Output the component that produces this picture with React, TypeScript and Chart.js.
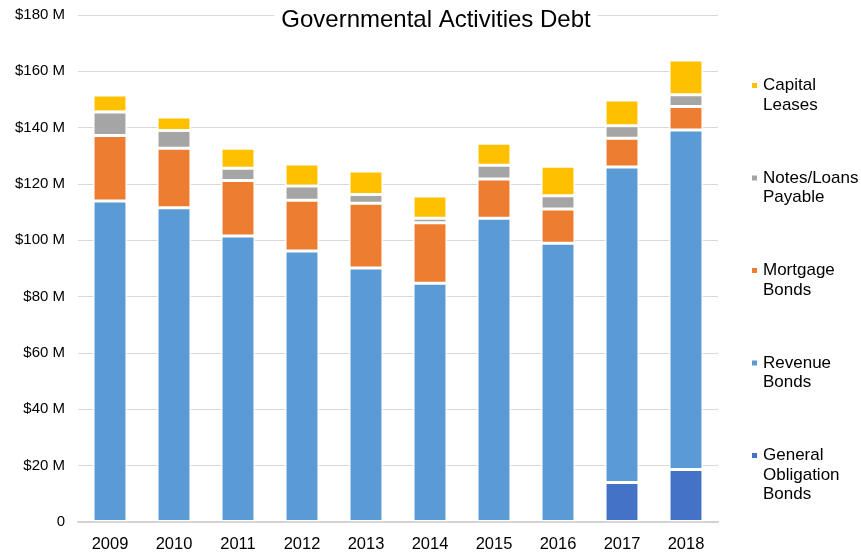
import { useEffect, useRef } from "react";
import { Chart, registerables } from "chart.js";

Chart.register(...registerables);

const years = ["2009", "2010", "2011", "2012", "2013", "2014", "2015", "2016", "2017", "2018"];
const generalObligation = [0, 0, 0, 0, 0, 0, 0, 0, 14.0, 18.6];
const revenueBonds = [114.0, 111.6, 101.5, 96.2, 90.2, 84.8, 107.8, 99.0, 112.0, 120.6];
const mortgageBonds = [23.2, 21.1, 19.7, 18.0, 23.0, 21.4, 14.0, 12.1, 10.2, 8.3];
const notesLoans = [8.4, 6.3, 4.4, 5.1, 3.1, 1.6, 4.9, 4.7, 4.5, 4.2];
const capitalLeases = [6.0, 4.8, 7.1, 7.8, 8.3, 7.9, 7.8, 10.5, 9.1, 12.3];

const titleText = "Governmental Activities Debt";
const legendItems = [
  { lines: ["Capital", "Leases"], color: "#FFC000" },
  { lines: ["Notes/Loans", "Payable"], color: "#A5A5A5" },
  { lines: ["Mortgage", "Bonds"], color: "#ED7D31" },
  { lines: ["Revenue", "Bonds"], color: "#5B9BD5" },
  { lines: ["General", "Obligation", "Bonds"], color: "#4472C4" },
];

const FONT = "'Liberation Sans', Arial, sans-serif";

const overlayPlugin = {
  id: "overlay",
  afterDraw(chart: any) {
    const ctx = chart.ctx;
    ctx.save();
    // title
    ctx.font = `24px ${FONT}`;
    const w = ctx.measureText(titleText).width;
    const cx = 436;
    ctx.fillStyle = "#ffffff";
    ctx.fillRect(cx - w / 2 - 7, 3, w + 14, 32);
    ctx.fillStyle = "#000000";
    ctx.textAlign = "center";
    ctx.textBaseline = "alphabetic";
    ctx.fillText(titleText, cx, 27);
    // legend
    ctx.font = `17px ${FONT}`;
    ctx.textAlign = "left";
    ctx.textBaseline = "middle";
    const startY = 85.5;
    const step = 92.5;
    legendItems.forEach((item, i) => {
      const y0 = startY + i * step;
      ctx.fillStyle = item.color;
      ctx.fillRect(752, y0 - 2.5, 5, 5);
      ctx.fillStyle = "#000000";
      item.lines.forEach((ln, j) => {
        ctx.fillText(ln, 763, y0 + j * 19.5);
      });
    });
    ctx.restore();
  },
};

export default function App() {
  const ref = useRef<HTMLCanvasElement | null>(null);
  useEffect(() => {
    if (!ref.current) return;
    const common = {
      borderColor: "#ffffff",
      borderWidth: 1.5,
      borderSkipped: false,
      barPercentage: 0.53,
      categoryPercentage: 1,
    };
    const chart = new Chart(ref.current, {
      type: "bar",
      data: {
        labels: years,
        datasets: [
          { label: "General Obligation Bonds", data: generalObligation, backgroundColor: "#4472C4", ...common },
          { label: "Revenue Bonds", data: revenueBonds, backgroundColor: "#5B9BD5", ...common },
          { label: "Mortgage Bonds", data: mortgageBonds, backgroundColor: "#ED7D31", ...common },
          { label: "Notes/Loans Payable", data: notesLoans, backgroundColor: "#A5A5A5", ...common },
          { label: "Capital Leases", data: capitalLeases, backgroundColor: "#FFC000", ...common },
        ] as any,
      },
      options: {
        responsive: false,
        animation: false,
        devicePixelRatio: 1,
        layout: { padding: { top: 15, right: 143, bottom: 0, left: 0 } },
        plugins: {
          legend: { display: false },
          tooltip: { enabled: false },
          title: { display: false },
        },
        scales: {
          x: {
            stacked: true,
            grid: { display: false, drawTicks: false },
            border: { display: true, color: "#d0d0d0", width: 1.5 },
            ticks: { color: "#000000", font: { family: FONT, size: 16.5 }, padding: 13 },
            afterFit(scale: any) {
              scale.height = 32;
              scale.paddingLeft = 0;
              scale.paddingRight = 0;
            },
          },
          y: {
            stacked: true,
            min: 0,
            max: 180,
            grid: { color: "#d9d9d9", lineWidth: 1, drawTicks: false },
            border: { display: false },
            ticks: {
              stepSize: 20,
              color: "#000000",
              font: { family: FONT, size: 15 },
              padding: 13,
              callback: (v: any) => (Number(v) === 0 ? "0" : `$${v} M`),
            },
            afterFit(scale: any) {
              scale.width = 78;
              scale.paddingTop = 0;
              scale.paddingBottom = 0;
            },
          },
        },
      },
      plugins: [overlayPlugin],
    });
    return () => chart.destroy();
  }, []);
  return (
    <div style={{ position: "absolute", left: 0, top: 0, width: 861, height: 554, background: "#fff" }}>
      <canvas ref={ref} width={861} height={554} style={{ display: "block" }} />
    </div>
  );
}
